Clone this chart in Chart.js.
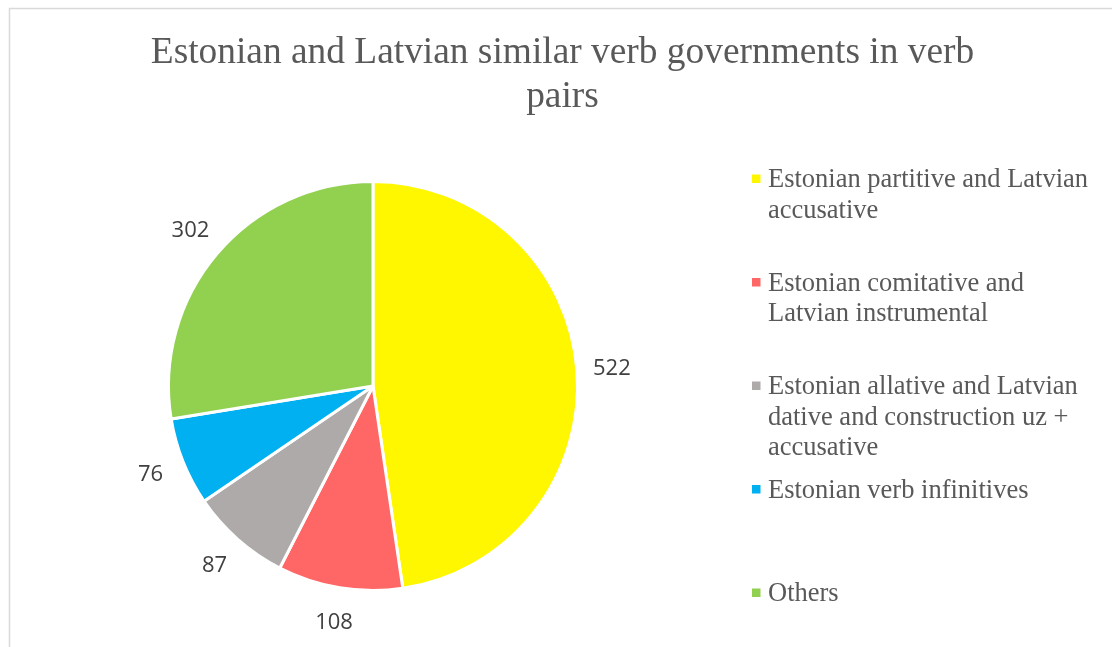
<!DOCTYPE html>
<html>
<head>
<meta charset="utf-8">
<script src="https://cdn.jsdelivr.net/npm/chart.js@4"></script>
<style>
  html, body { margin: 0; padding: 0; background: #ffffff; }
  #wrap { position: relative; width: 1112px; height: 647px; }
  canvas { display: block; }
</style>
</head>
<body>
<div id="wrap"><canvas id="chart" width="1112" height="647"></canvas></div>
<script>
// Verb pairs grouped by shared government pattern
const titleLines = ['Estonian and Latvian similar verb governments in verb', 'pairs'];
const categories = [
  'Estonian partitive and Latvian accusative',
  'Estonian comitative and Latvian instrumental',
  'Estonian allative and Latvian dative and construction uz + accusative',
  'Estonian verb infinitives',
  'Others'
];
// Legend text broken into its display lines
const legendLines = [
  ['Estonian partitive and Latvian', 'accusative'],
  ['Estonian comitative and', 'Latvian instrumental'],
  ['Estonian allative and Latvian', 'dative and construction uz +', 'accusative'],
  ['Estonian verb infinitives'],
  ['Others']
];
const counts = [522, 108, 87, 76, 302];
const sliceColors = ['#FFF700', '#FF6666', '#AEAAAA', '#00B0F0', '#92D050'];

const SERIF = '"Liberation Serif", "Times New Roman", serif';
const SANS = '"Open Sans", "Noto Sans", sans-serif';

// Frame, title and legend drawn around the pie
const decorations = {
  id: 'decorations',
  beforeDraw(chart) {
    const ctx = chart.ctx;
    ctx.save();
    ctx.strokeStyle = '#D9D9D9';
    ctx.lineWidth = 1.5;
    ctx.beginPath();
    ctx.moveTo(9.5, chart.height);
    ctx.lineTo(9.5, 8.5);
    ctx.lineTo(chart.width, 8.5);
    ctx.stroke();
    ctx.restore();
  },
  afterDraw(chart) {
    const ctx = chart.ctx;
    ctx.save();
    // title
    ctx.fillStyle = '#595959';
    ctx.font = '37.4px ' + SERIF;
    ctx.textAlign = 'center';
    ctx.textBaseline = 'alphabetic';
    titleLines.forEach((t, i) => ctx.fillText(t, 562.5, 63 + i * 44));

    // legend
    ctx.font = '26.5px ' + SERIF;
    ctx.textAlign = 'left';
    legendLines.forEach((lines, i) => {
      const base = 187 + i * 103.5;
      ctx.fillStyle = sliceColors[i];
      ctx.fillRect(752, base - 12.5, 8.5, 8.5);
      ctx.fillStyle = '#595959';
      lines.forEach((l, j) => ctx.fillText(l, 768, base + j * 30.5));
    });

    // value labels outside each slice
    const meta = chart.getDatasetMeta(0);
    ctx.font = '22px ' + SANS;
    ctx.fillStyle = '#404040';
    ctx.textAlign = 'center';
    ctx.textBaseline = 'middle';
    meta.data.forEach((arc, i) => {
      const p = arc.getProps(['x', 'y', 'startAngle', 'endAngle', 'outerRadius'], true);
      const mid = (p.startAngle + p.endAngle) / 2;
      const r = p.outerRadius + 35;
      ctx.fillText(String(counts[i]), p.x + Math.cos(mid) * r, p.y + Math.sin(mid) * r);
    });
    ctx.restore();
  }
};

new Chart(document.getElementById('chart'), {
  type: 'pie',
  data: {
    labels: categories,
    datasets: [{
      data: counts,
      backgroundColor: sliceColors,
      borderColor: '#FFFFFF',
      borderWidth: 3,
      hoverOffset: 0,
      offset: 0
    }]
  },
  options: {
    responsive: false,
    animation: false,
    layout: { padding: { left: 167, right: 533, top: 180, bottom: 55 } },
    plugins: {
      legend: { display: false },
      title: { display: false },
      tooltip: { enabled: false }
    },
    events: []
  },
  plugins: [decorations]
});
</script>
</body>
</html>
